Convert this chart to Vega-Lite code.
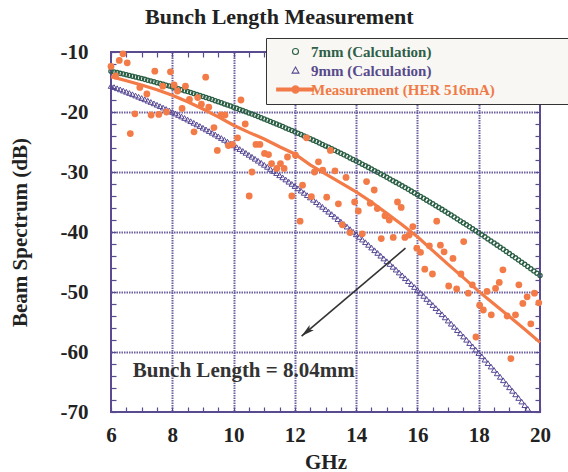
{
  "$schema": "https://vega.github.io/schema/vega-lite/v6.json",
  "width": 429,
  "height": 360,
  "autosize": "none",
  "padding": {"left": 111, "top": 52, "right": 28, "bottom": 60},
  "background": "white",
  "config": {"view": {"stroke": "#5a4a90", "strokeWidth": 2}},
  "title": {"text": "Bunch Length Measurement", "anchor": "start", "frame": "group", "dx": 34, "offset": 9, "font": "Liberation Serif", "fontSize": 22, "fontWeight": "bold", "color": "#222222"},
  "datasets": {
    "c7": [
      {"f":6.0,"db":-13.22},{"f":6.1,"db":-13.33},{"f":6.2,"db":-13.44},{"f":6.3,"db":-13.56},{"f":6.4,"db":-13.68},{"f":6.5,"db":-13.80},{"f":6.6,"db":-13.92},{"f":6.7,"db":-14.05},{"f":6.8,"db":-14.17},{"f":6.9,"db":-14.30},
      {"f":7.0,"db":-14.43},{"f":7.1,"db":-14.56},{"f":7.2,"db":-14.70},{"f":7.3,"db":-14.83},{"f":7.4,"db":-14.97},{"f":7.5,"db":-15.11},{"f":7.6,"db":-15.25},{"f":7.7,"db":-15.39},{"f":7.8,"db":-15.54},{"f":7.9,"db":-15.68},
      {"f":8.0,"db":-15.83},{"f":8.1,"db":-15.98},{"f":8.2,"db":-16.14},{"f":8.3,"db":-16.29},{"f":8.4,"db":-16.45},{"f":8.5,"db":-16.60},{"f":8.6,"db":-16.76},{"f":8.7,"db":-16.93},{"f":8.8,"db":-17.09},{"f":8.9,"db":-17.25},
      {"f":9.0,"db":-17.42},{"f":9.1,"db":-17.59},{"f":9.2,"db":-17.76},{"f":9.3,"db":-17.93},{"f":9.4,"db":-18.11},{"f":9.5,"db":-18.29},{"f":9.6,"db":-18.46},{"f":9.7,"db":-18.65},{"f":9.8,"db":-18.83},{"f":9.9,"db":-19.01},
      {"f":10.0,"db":-19.20},{"f":10.1,"db":-19.39},{"f":10.2,"db":-19.58},{"f":10.3,"db":-19.77},{"f":10.4,"db":-19.96},{"f":10.5,"db":-20.16},{"f":10.6,"db":-20.35},{"f":10.7,"db":-20.55},{"f":10.8,"db":-20.75},{"f":10.9,"db":-20.96},
      {"f":11.0,"db":-21.16},{"f":11.1,"db":-21.37},{"f":11.2,"db":-21.58},{"f":11.3,"db":-21.79},{"f":11.4,"db":-22.00},{"f":11.5,"db":-22.21},{"f":11.6,"db":-22.43},{"f":11.7,"db":-22.65},{"f":11.8,"db":-22.87},{"f":11.9,"db":-23.09},
      {"f":12.0,"db":-23.31},{"f":12.1,"db":-23.54},{"f":12.2,"db":-23.76},{"f":12.3,"db":-23.99},{"f":12.4,"db":-24.22},{"f":12.5,"db":-24.46},{"f":12.6,"db":-24.69},{"f":12.7,"db":-24.93},{"f":12.8,"db":-25.17},{"f":12.9,"db":-25.41},
      {"f":13.0,"db":-25.65},{"f":13.1,"db":-25.89},{"f":13.2,"db":-26.14},{"f":13.3,"db":-26.39},{"f":13.4,"db":-26.63},{"f":13.5,"db":-26.89},{"f":13.6,"db":-27.14},{"f":13.7,"db":-27.39},{"f":13.8,"db":-27.65},{"f":13.9,"db":-27.91},
      {"f":14.0,"db":-28.17},{"f":14.1,"db":-28.43},{"f":14.2,"db":-28.70},{"f":14.3,"db":-28.97},{"f":14.4,"db":-29.23},{"f":14.5,"db":-29.50},{"f":14.6,"db":-29.78},{"f":14.7,"db":-30.05},{"f":14.8,"db":-30.33},{"f":14.9,"db":-30.60},
      {"f":15.0,"db":-30.88},{"f":15.1,"db":-31.16},{"f":15.2,"db":-31.45},{"f":15.3,"db":-31.73},{"f":15.4,"db":-32.02},{"f":15.5,"db":-32.31},{"f":15.6,"db":-32.60},{"f":15.7,"db":-32.89},{"f":15.8,"db":-33.19},{"f":15.9,"db":-33.48},
      {"f":16.0,"db":-33.78},{"f":16.1,"db":-34.08},{"f":16.2,"db":-34.38},{"f":16.3,"db":-34.69},{"f":16.4,"db":-34.99},{"f":16.5,"db":-35.30},{"f":16.6,"db":-35.61},{"f":16.7,"db":-35.92},{"f":16.8,"db":-36.23},{"f":16.9,"db":-36.55},
      {"f":17.0,"db":-36.87},{"f":17.1,"db":-37.18},{"f":17.2,"db":-37.50},{"f":17.3,"db":-37.83},{"f":17.4,"db":-38.15},{"f":17.5,"db":-38.48},{"f":17.6,"db":-38.81},{"f":17.7,"db":-39.14},{"f":17.8,"db":-39.47},{"f":17.9,"db":-39.80},
      {"f":18.0,"db":-40.14},{"f":18.1,"db":-40.47},{"f":18.2,"db":-40.81},{"f":18.3,"db":-41.15},{"f":18.4,"db":-41.50},{"f":18.5,"db":-41.84},{"f":18.6,"db":-42.19},{"f":18.7,"db":-42.54},{"f":18.8,"db":-42.89},{"f":18.9,"db":-43.24},
      {"f":19.0,"db":-43.60},{"f":19.1,"db":-43.95},{"f":19.2,"db":-44.31},{"f":19.3,"db":-44.67},{"f":19.4,"db":-45.03},{"f":19.5,"db":-45.39},{"f":19.6,"db":-45.76},{"f":19.7,"db":-46.13},{"f":19.8,"db":-46.50},{"f":19.9,"db":-46.87},
      {"f":20.0,"db":-47.24}
    ],
    "c9": [
      {"f":6.0,"db":-15.66},{"f":6.1,"db":-15.85},{"f":6.2,"db":-16.04},{"f":6.3,"db":-16.23},{"f":6.4,"db":-16.43},{"f":6.5,"db":-16.63},{"f":6.6,"db":-16.83},{"f":6.7,"db":-17.04},{"f":6.8,"db":-17.25},{"f":6.9,"db":-17.46},
      {"f":7.0,"db":-17.67},{"f":7.1,"db":-17.89},{"f":7.2,"db":-18.11},{"f":7.3,"db":-18.33},{"f":7.4,"db":-18.56},{"f":7.5,"db":-18.79},{"f":7.6,"db":-19.03},{"f":7.7,"db":-19.26},{"f":7.8,"db":-19.50},{"f":7.9,"db":-19.74},
      {"f":8.0,"db":-19.99},{"f":8.1,"db":-20.24},{"f":8.2,"db":-20.49},{"f":8.3,"db":-20.75},{"f":8.4,"db":-21.00},{"f":8.5,"db":-21.26},{"f":8.6,"db":-21.53},{"f":8.7,"db":-21.80},{"f":8.8,"db":-22.07},{"f":8.9,"db":-22.34},
      {"f":9.0,"db":-22.62},{"f":9.1,"db":-22.90},{"f":9.2,"db":-23.18},{"f":9.3,"db":-23.46},{"f":9.4,"db":-23.75},{"f":9.5,"db":-24.05},{"f":9.6,"db":-24.34},{"f":9.7,"db":-24.64},{"f":9.8,"db":-24.94},{"f":9.9,"db":-25.24},
      {"f":10.0,"db":-25.55},{"f":10.1,"db":-25.86},{"f":10.2,"db":-26.18},{"f":10.3,"db":-26.49},{"f":10.4,"db":-26.81},{"f":10.5,"db":-27.14},{"f":10.6,"db":-27.46},{"f":10.7,"db":-27.79},{"f":10.8,"db":-28.12},{"f":10.9,"db":-28.46},
      {"f":11.0,"db":-28.80},{"f":11.1,"db":-29.14},{"f":11.2,"db":-29.48},{"f":11.3,"db":-29.83},{"f":11.4,"db":-30.18},{"f":11.5,"db":-30.54},{"f":11.6,"db":-30.89},{"f":11.7,"db":-31.25},{"f":11.8,"db":-31.62},{"f":11.9,"db":-31.98},
      {"f":12.0,"db":-32.35},{"f":12.1,"db":-32.72},{"f":12.2,"db":-33.10},{"f":12.3,"db":-33.48},{"f":12.4,"db":-33.86},{"f":12.5,"db":-34.24},{"f":12.6,"db":-34.63},{"f":12.7,"db":-35.02},{"f":12.8,"db":-35.42},{"f":12.9,"db":-35.81},
      {"f":13.0,"db":-36.21},{"f":13.1,"db":-36.62},{"f":13.2,"db":-37.02},{"f":13.3,"db":-37.43},{"f":13.4,"db":-37.85},{"f":13.5,"db":-38.26},{"f":13.6,"db":-38.68},{"f":13.7,"db":-39.10},{"f":13.8,"db":-39.53},{"f":13.9,"db":-39.96},
      {"f":14.0,"db":-40.39},{"f":14.1,"db":-40.82},{"f":14.2,"db":-41.26},{"f":14.3,"db":-41.70},{"f":14.4,"db":-42.14},{"f":14.5,"db":-42.59},{"f":14.6,"db":-43.04},{"f":14.7,"db":-43.49},{"f":14.8,"db":-43.95},{"f":14.9,"db":-44.41},
      {"f":15.0,"db":-44.87},{"f":15.1,"db":-45.33},{"f":15.2,"db":-45.80},{"f":15.3,"db":-46.27},{"f":15.4,"db":-46.75},{"f":15.5,"db":-47.22},{"f":15.6,"db":-47.70},{"f":15.7,"db":-48.19},{"f":15.8,"db":-48.67},{"f":15.9,"db":-49.16},
      {"f":16.0,"db":-49.66},{"f":16.1,"db":-50.15},{"f":16.2,"db":-50.65},{"f":16.3,"db":-51.16},{"f":16.4,"db":-51.66},{"f":16.5,"db":-52.17},{"f":16.6,"db":-52.68},{"f":16.7,"db":-53.20},{"f":16.8,"db":-53.71},{"f":16.9,"db":-54.23},
      {"f":17.0,"db":-54.76},{"f":17.1,"db":-55.28},{"f":17.2,"db":-55.81},{"f":17.3,"db":-56.35},{"f":17.4,"db":-56.88},{"f":17.5,"db":-57.42},{"f":17.6,"db":-57.96},{"f":17.7,"db":-58.51},{"f":17.8,"db":-59.06},{"f":17.9,"db":-59.61},
      {"f":18.0,"db":-60.17},{"f":18.1,"db":-60.72},{"f":18.2,"db":-61.28},{"f":18.3,"db":-61.85},{"f":18.4,"db":-62.42},{"f":18.5,"db":-62.99},{"f":18.6,"db":-63.56},{"f":18.7,"db":-64.14},{"f":18.8,"db":-64.71},{"f":18.9,"db":-65.30},
      {"f":19.0,"db":-65.88},{"f":19.1,"db":-66.47},{"f":19.2,"db":-67.06},{"f":19.3,"db":-67.66},{"f":19.4,"db":-68.26},{"f":19.5,"db":-68.86},{"f":19.6,"db":-69.46}
    ],
    "meas": [
      {"f":6.00,"db":-12.4},{"f":6.15,"db":-14.0},{"f":6.27,"db":-11.4},{"f":6.39,"db":-10.3},{"f":6.53,"db":-11.8},{"f":6.63,"db":-23.6},{"f":6.78,"db":-20.3},{"f":6.94,"db":-15.9},{"f":7.17,"db":-17.0},{"f":7.31,"db":-20.5},
      {"f":7.43,"db":-13.2},{"f":7.56,"db":-20.4},{"f":7.69,"db":-15.7},{"f":7.81,"db":-20.0},{"f":7.94,"db":-13.3},{"f":8.06,"db":-15.5},{"f":8.17,"db":-16.5},{"f":8.32,"db":-19.4},{"f":8.43,"db":-15.7},{"f":8.56,"db":-17.9},
      {"f":8.71,"db":-23.3},{"f":8.83,"db":-17.6},{"f":8.95,"db":-18.7},{"f":9.09,"db":-14.2},{"f":9.19,"db":-19.2},{"f":9.36,"db":-22.6},{"f":9.47,"db":-26.4},{"f":9.59,"db":-20.5},{"f":9.72,"db":-20.5},{"f":9.83,"db":-25.6},
      {"f":9.96,"db":-25.4},{"f":10.13,"db":-24.3},{"f":10.24,"db":-18.0},{"f":10.38,"db":-22.0},{"f":10.51,"db":-34.0},{"f":10.60,"db":-30.0},{"f":10.73,"db":-25.4},{"f":10.86,"db":-25.4},{"f":11.01,"db":-26.9},{"f":11.14,"db":-27.1},
      {"f":11.24,"db":-28.6},{"f":11.41,"db":-29.4},{"f":11.53,"db":-28.6},{"f":11.65,"db":-29.4},{"f":11.76,"db":-27.5},{"f":11.90,"db":-34.0},{"f":12.02,"db":-27.2},{"f":12.17,"db":-38.2},{"f":12.25,"db":-32.2},{"f":12.38,"db":-24.3},
      {"f":12.54,"db":-34.1},{"f":12.64,"db":-30.0},{"f":12.77,"db":-28.3},{"f":12.91,"db":-29.7},{"f":13.04,"db":-34.2},{"f":13.16,"db":-26.4},{"f":13.31,"db":-29.8},{"f":13.42,"db":-35.3},{"f":13.55,"db":-38.8},{"f":13.67,"db":-30.9},
      {"f":13.80,"db":-40.1},{"f":13.95,"db":-35.0},{"f":14.07,"db":-36.5},{"f":14.20,"db":-40.3},{"f":14.34,"db":-31.6},{"f":14.46,"db":-35.2},{"f":14.59,"db":-33.0},{"f":14.69,"db":-36.1},{"f":14.82,"db":-41.1},{"f":14.94,"db":-37.3},
      {"f":15.08,"db":-38.0},{"f":15.21,"db":-40.9},{"f":15.35,"db":-35.0},{"f":15.47,"db":-35.9},{"f":15.59,"db":-40.9},{"f":15.73,"db":-40.5},{"f":15.85,"db":-39.1},{"f":15.98,"db":-42.7},{"f":16.10,"db":-43.4},{"f":16.24,"db":-46.2},
      {"f":16.39,"db":-42.3},{"f":16.49,"db":-47.0},{"f":16.63,"db":-38.2},{"f":16.75,"db":-42.2},{"f":16.87,"db":-43.3},{"f":17.02,"db":-49.0},{"f":17.16,"db":-44.4},{"f":17.28,"db":-49.5},{"f":17.42,"db":-47.0},{"f":17.51,"db":-41.6},
      {"f":17.66,"db":-50.2},{"f":17.79,"db":-48.8},{"f":17.91,"db":-57.5},{"f":18.03,"db":-52.2},{"f":18.15,"db":-53.0},{"f":18.27,"db":-49.9},{"f":18.41,"db":-53.8},{"f":18.55,"db":-49.4},{"f":18.67,"db":-48.4},{"f":18.79,"db":-46.3},
      {"f":18.93,"db":-54.0},{"f":19.05,"db":-61.1},{"f":19.20,"db":-53.8},{"f":19.31,"db":-48.8},{"f":19.44,"db":-51.9},{"f":19.58,"db":-50.8},{"f":19.70,"db":-55.3},{"f":19.82,"db":-50.2},{"f":19.96,"db":-51.8}
    ],
    "fit": [
      {"f":6.0,"db":-14.1},{"f":6.5,"db":-14.8},{"f":7.0,"db":-15.5},{"f":7.5,"db":-16.3},{"f":8.0,"db":-17.2},{"f":8.5,"db":-18.3},{"f":9.0,"db":-19.5},{"f":9.5,"db":-20.8},{"f":10.0,"db":-22.2},{"f":10.5,"db":-23.4},
      {"f":11.0,"db":-24.5},{"f":11.5,"db":-25.8},{"f":12.0,"db":-27.0},{"f":12.5,"db":-28.8},{"f":13.0,"db":-30.3},{"f":13.5,"db":-31.8},{"f":14.0,"db":-33.3},{"f":14.5,"db":-35.0},{"f":15.0,"db":-36.9},{"f":15.5,"db":-38.8},
      {"f":16.0,"db":-40.8},{"f":16.5,"db":-43.1},{"f":17.0,"db":-45.4},{"f":17.5,"db":-47.6},{"f":18.0,"db":-49.9},{"f":18.5,"db":-52.0},{"f":19.0,"db":-54.1},{"f":19.5,"db":-56.2},{"f":20.0,"db":-58.4}
    ],
    "leg": [{"series":"7mm (Calculation)"},{"series":"9mm (Calculation)"},{"series":"Measurement (HER 516mA)\u2800\u2800\u2800\u2800\u2800\u2800\u2800"}],
    "arrow": [{"f":15.61,"db":-42.7,"f2":12.22,"db2":-57.35}],
    "note": [{"f":6.71,"db":-64.1,"label":"Bunch Length = 8.04mm"}]
  },
  "resolve": {"axis": {"x": "independent", "y": "independent"}},
  "layer": [
    {
      "data": {"name": "c7"},
      "mark": {"type": "point", "shape": "circle", "filled": false, "color": "#2b5f45", "size": 18, "strokeWidth": 1.3, "opacity": 1},
      "encoding": {
        "x": {"field": "f", "type": "quantitative", "scale": {"domain": [6, 20], "nice": false, "zero": false},
          "axis": {"orient": "bottom", "values": [6,6.5,7,7.5,8,8.5,9,9.5,10,10.5,11,11.5,12,12.5,13,13.5,14,14.5,15,15.5,16,16.5,17,17.5,18,18.5,19,19.5,20],
            "labelExpr": "datum.value % 2 === 0 ? '' + datum.value : ''",
            "labelFont": "Liberation Serif", "labelFontSize": 21, "labelFontWeight": "bold", "labelColor": "#222222", "labelPadding": 17, "labelOverlap": false, "labelFlush": false,
            "grid": true, "gridColor": "#6c5fa0", "gridDash": [1.5, 1], "gridWidth": 2,
            "gridOpacity": {"condition": {"test": "datum.value % 2 === 0 && datum.value > 6 && datum.value < 20", "value": 1}, "value": 0},
            "ticks": true, "tickSize": -5, "tickColor": "#5a4a90", "tickWidth": 1.2, "domain": false,
            "title": "GHz", "titleFont": "Liberation Serif", "titleFontSize": 21, "titleFontWeight": "bold", "titleColor": "#222222", "titlePadding": 6}},
        "y": {"field": "db", "type": "quantitative", "scale": {"domain": [-70, -10], "nice": false, "zero": false},
          "axis": {"orient": "left", "values": [-70,-68,-66,-64,-62,-60,-58,-56,-54,-52,-50,-48,-46,-44,-42,-40,-38,-36,-34,-32,-30,-28,-26,-24,-22,-20,-18,-16,-14,-12,-10],
            "labelExpr": "datum.value % 10 === 0 ? '' + datum.value : ''",
            "labelFont": "Liberation Serif", "labelFontSize": 21, "labelFontWeight": "bold", "labelColor": "#222222", "labelPadding": 28, "labelOverlap": false, "labelFlush": false,
            "grid": true, "gridColor": "#6c5fa0", "gridDash": [1.5, 1], "gridWidth": 2,
            "gridOpacity": {"condition": {"test": "datum.value % 10 === 0 && datum.value > -70 && datum.value < -10", "value": 1}, "value": 0},
            "ticks": true, "tickSize": -5, "tickColor": "#5a4a90", "tickWidth": 1.2, "domain": false,
            "title": "Beam Spectrum (dB)", "titleFont": "Liberation Serif", "titleFontSize": 21, "titleFontWeight": "bold", "titleColor": "#222222", "titlePadding": 30}}
      }
    },
    {
      "data": {"name": "c9"},
      "mark": {"type": "point", "shape": "triangle-up", "filled": false, "color": "#574894", "size": 30, "strokeWidth": 1, "opacity": 1},
      "encoding": {
        "x": {"field": "f", "type": "quantitative",
          "axis": {"orient": "top", "values": [6,6.5,7,7.5,8,8.5,9,9.5,10,10.5,11,11.5,12,12.5,13,13.5,14,14.5,15,15.5,16,16.5,17,17.5,18,18.5,19,19.5,20], "labels": false, "grid": false, "domain": false, "ticks": true, "tickSize": -5, "tickColor": "#5a4a90", "tickWidth": 1.2, "title": null}},
        "y": {"field": "db", "type": "quantitative",
          "axis": {"orient": "right", "values": [-70,-68,-66,-64,-62,-60,-58,-56,-54,-52,-50,-48,-46,-44,-42,-40,-38,-36,-34,-32,-30,-28,-26,-24,-22,-20,-18,-16,-14,-12,-10], "labels": false, "grid": false, "domain": false, "ticks": true, "tickSize": -5, "tickColor": "#5a4a90", "tickWidth": 1.2, "title": null}}
      }
    },
    {
      "data": {"name": "fit"},
      "mark": {"type": "line", "color": "#f27b48", "strokeWidth": 3.2},
      "encoding": {
        "x": {"field": "f", "type": "quantitative", "axis": null},
        "y": {"field": "db", "type": "quantitative", "axis": null}
      }
    },
    {
      "data": {"name": "meas"},
      "mark": {"type": "point", "shape": "circle", "filled": true, "color": "#f27b48", "size": 46, "opacity": 1},
      "encoding": {
        "x": {"field": "f", "type": "quantitative", "axis": null},
        "y": {"field": "db", "type": "quantitative", "axis": null}
      }
    },
    {
      "data": {"name": "leg"},
      "mark": {"type": "point", "strokeWidth": 1.1, "opacity": 1},
      "encoding": {
        "x": {"field": "f", "type": "quantitative", "axis": null},
        "y": {"field": "db", "type": "quantitative", "axis": null},
        "fill": {"field": "series", "type": "nominal",
          "scale": {"domain": ["7mm (Calculation)", "9mm (Calculation)", "Measurement (HER 516mA)\u2800\u2800\u2800\u2800\u2800\u2800\u2800"], "range": ["transparent", "transparent", "#f27b48"]},
          "legend": {"title": null, "orient": "none", "legendX": 155, "legendY": -14, "padding": 6, "rowPadding": 3, "symbolSize": 64, "symbolOffset": 16, "labelOffset": 8, "labelLimit": 600, "symbolStrokeWidth": 1.1,
            "labelFont": "Liberation Serif", "labelFontSize": 15, "labelFontWeight": "bold", "fillColor": "#f8f7f3", "strokeColor": "#333333",
            "labelColor": {"expr": "datum.value === '7mm (Calculation)' ? '#2f5f48' : datum.value === '9mm (Calculation)' ? '#574a8c' : '#f07a45'"}}},
        "stroke": {"field": "series", "type": "nominal",
          "scale": {"domain": ["7mm (Calculation)", "9mm (Calculation)", "Measurement (HER 516mA)\u2800\u2800\u2800\u2800\u2800\u2800\u2800"], "range": ["#2b5f45", "#574894", "#f27b48"]},
          "legend": {"title": null, "orient": "none", "legendX": 155, "legendY": -14, "padding": 6, "rowPadding": 3, "symbolSize": 64, "symbolOffset": 16, "labelOffset": 8, "labelLimit": 600, "symbolStrokeWidth": 1.1,
            "labelFont": "Liberation Serif", "labelFontSize": 15, "labelFontWeight": "bold", "fillColor": "#f8f7f3", "strokeColor": "#333333",
            "labelColor": {"expr": "datum.value === '7mm (Calculation)' ? '#2f5f48' : datum.value === '9mm (Calculation)' ? '#574a8c' : '#f07a45'"}}},
        "shape": {"field": "series", "type": "nominal",
          "scale": {"domain": ["7mm (Calculation)", "9mm (Calculation)", "Measurement (HER 516mA)\u2800\u2800\u2800\u2800\u2800\u2800\u2800"], "range": ["M0.75,0A0.75,0.75,0,1,1,-0.75,0A0.75,0.75,0,1,1,0.75,0Z", "M0,-0.85L0.85,0.65L-0.85,0.65Z", "M-4.7,-0.35L4.5,-0.35L4.5,0.35L-4.7,0.35Z M0.9,0A0.9,0.9,0,1,1,-0.9,0A0.9,0.9,0,1,1,0.9,0Z"]},
          "legend": {"title": null, "orient": "none", "legendX": 155, "legendY": -14, "padding": 6, "rowPadding": 3, "symbolSize": 64, "symbolOffset": 16, "labelOffset": 8, "labelLimit": 600, "symbolStrokeWidth": 1.1,
            "labelFont": "Liberation Serif", "labelFontSize": 15, "labelFontWeight": "bold", "fillColor": "#f8f7f3", "strokeColor": "#333333",
            "labelColor": {"expr": "datum.value === '7mm (Calculation)' ? '#2f5f48' : datum.value === '9mm (Calculation)' ? '#574a8c' : '#f07a45'"}}}
      }
    },
    {
      "data": {"name": "arrow"},
      "mark": {"type": "rule", "color": "#333333", "strokeWidth": 1.6},
      "encoding": {
        "x": {"field": "f", "type": "quantitative", "axis": null},
        "y": {"field": "db", "type": "quantitative", "axis": null},
        "x2": {"field": "f2"},
        "y2": {"field": "db2"}
      }
    },
    {
      "data": {"name": "arrow"},
      "mark": {"type": "point", "shape": "M0,0L0.55,2.2L0,1.7L-0.55,2.2Z", "filled": true, "color": "#333333", "size": 144, "angle": 230, "opacity": 1},
      "encoding": {
        "x": {"field": "f2", "type": "quantitative", "axis": null},
        "y": {"field": "db2", "type": "quantitative", "axis": null}
      }
    },
    {
      "data": {"name": "note"},
      "mark": {"type": "text", "align": "left", "baseline": "alphabetic", "font": "Liberation Serif", "fontSize": 21, "fontWeight": "bold", "color": "#333333"},
      "encoding": {
        "x": {"field": "f", "type": "quantitative", "axis": null},
        "y": {"field": "db", "type": "quantitative", "axis": null},
        "text": {"field": "label"}
      }
    }
  ]
}
